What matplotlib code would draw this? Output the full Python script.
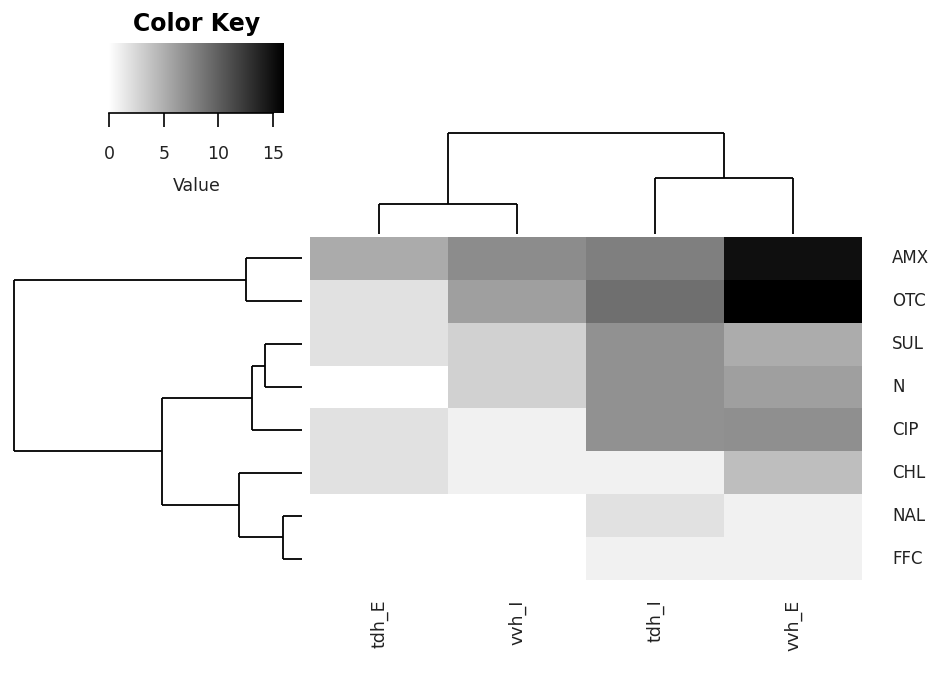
import numpy as np
import matplotlib
matplotlib.use("Agg")
import matplotlib.pyplot as plt
from matplotlib.colors import LinearSegmentedColormap

plt.rcParams['font.family'] = ['DejaVu Sans']

# data, rows/columns in the displayed (clustered) order
row_labels = ["AMX", "OTC", "SUL", "N", "CIP", "CHL", "NAL", "FFC"]
col_labels = ["tdh_E", "vvh_I", "tdh_I", "vvh_E"]
values = np.array([
    [5.3, 7.2, 8.0, 15.0],
    [1.9, 6.0, 9.0, 16.0],
    [1.9, 2.9, 6.9, 5.2],
    [0.0, 2.9, 6.9, 6.0],
    [1.9, 0.9, 6.9, 7.0],
    [1.9, 0.9, 0.9, 4.1],
    [0.0, 0.0, 1.9, 0.9],
    [0.0, 0.0, 0.9, 0.9],
])

# merges: child a, child b, height (ids >= n are earlier merges)
row_merges = [
    (0, 1, 0.194),
    (2, 3, 0.128),
    (9, 4, 0.174),
    (6, 7, 0.066),
    (5, 11, 0.219),
    (10, 12, 0.486),
    (8, 13, 1.0),
]
col_merges = [
    (0, 1, 0.30),
    (2, 3, 0.55),
    (4, 5, 1.0),
]

vmin, vmax = 0, 16
cmap = LinearSegmentedColormap.from_list("wb", ["white", "black"])

W, H = 940, 673


def px_axes(fig, x0, y0, x1, y1):
    # pixel box (top-left origin) -> figure axes
    return fig.add_axes([x0 / W, 1 - y1 / H, (x1 - x0) / W, (y1 - y0) / H])


def dendro_segments(merges, n):
    pos = {i: i + 0.5 for i in range(n)}
    hgt = {i: 0.0 for i in range(n)}
    segs = []
    for k, (a, b, h) in enumerate(merges):
        segs.append(((pos[a], hgt[a]), (pos[a], h)))
        segs.append(((pos[b], hgt[b]), (pos[b], h)))
        segs.append(((pos[a], h), (pos[b], h)))
        pos[n + k] = (pos[a] + pos[b]) / 2
        hgt[n + k] = h
    return segs


fig = plt.figure(figsize=(W / 100, H / 100), dpi=100)

# heatmap
ax = px_axes(fig, 310, 237, 862, 580)
ax.imshow(values, cmap=cmap, vmin=vmin, vmax=vmax, aspect="auto",
          interpolation="nearest", extent=(0, 4, 8, 0))
ax.set_xlim(0, 4)
ax.set_ylim(8, 0)
for s in ax.spines.values():
    s.set_visible(False)
ax.set_xticks([])
ax.set_yticks([])
for i, lab in enumerate(row_labels):
    ax.text(4.22, i + 0.5, lab, ha="left", va="center", fontsize=12,
            color="#222222")
for j, lab in enumerate(col_labels):
    ax.text(j + 0.5, 8.45, lab, ha="center", va="top", rotation=90,
            fontsize=12.5, color="#222222")

# column dendrogram
axc = px_axes(fig, 310, 133, 862, 234)
for (x0, y0), (x1, y1) in dendro_segments(col_merges, len(col_labels)):
    axc.plot([x0, x1], [y0, y1], color="black", lw=1.3, clip_on=False,
             solid_capstyle="butt")
axc.set_xlim(0, 4)
axc.set_ylim(0, 1.0)
axc.axis("off")

# row dendrogram
axr = px_axes(fig, 14, 237, 302, 580)
for (y0, x0), (y1, x1) in dendro_segments(row_merges, len(row_labels)):
    axr.plot([x0, x1], [y0, y1], color="black", lw=1.3, clip_on=False,
             solid_capstyle="butt")
axr.set_xlim(1.0, 0)
axr.set_ylim(8, 0)
axr.axis("off")

# color key
axk = px_axes(fig, 109, 43, 284, 113)
grad = np.linspace(vmin, vmax, 256).reshape(1, -1)
axk.imshow(grad, cmap=cmap, vmin=vmin, vmax=vmax, aspect="auto",
           extent=(vmin, vmax, 0, 1))
axk.set_xlim(vmin, vmax)
axk.set_ylim(0, 1)
for s in axk.spines.values():
    s.set_visible(False)
axk.spines["bottom"].set_visible(True)
axk.spines["bottom"].set_bounds(0, 15)
axk.spines["bottom"].set_linewidth(1.2)
axk.set_yticks([])
axk.set_xticks([0, 5, 10, 15])
axk.tick_params(axis="x", length=10, width=1.2, pad=13, labelsize=12.5,
                labelcolor="#222222")
axk.set_xlabel("Value", fontsize=12.5, labelpad=10, color="#222222")
axk.set_title("Color Key", fontsize=17, fontweight="bold", pad=9)

fig.savefig("out.png", dpi=100)
